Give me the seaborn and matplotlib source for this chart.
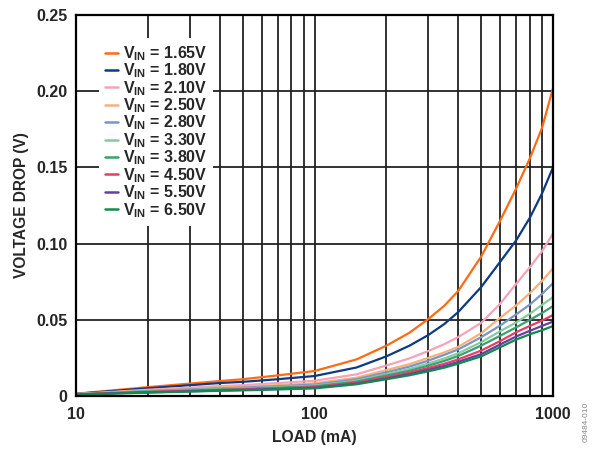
import numpy as np
import pandas as pd
import matplotlib
matplotlib.use('Agg')
import matplotlib.pyplot as plt
import seaborn as sns

# load current (mA)
load = [10, 20, 40, 50, 70, 100, 150, 200, 250, 300, 350, 400, 500, 600, 700, 800, 900, 1000]

vin_labels = ['1.65V', '1.80V', '2.10V', '2.50V', '2.80V',
              '3.30V', '3.80V', '4.50V', '5.50V', '6.50V']

# voltage drop (V) per input voltage
v165 = [0.0015, 0.0058, 0.0098, 0.0110, 0.0135, 0.0164, 0.0240, 0.0330, 0.0415, 0.0505, 0.0592, 0.0688, 0.0915, 0.1150, 0.1360, 0.1560, 0.1760, 0.2020]
v180 = [0.0014, 0.0051, 0.0085, 0.0093, 0.0110, 0.0131, 0.0187, 0.0260, 0.0330, 0.0400, 0.0472, 0.0550, 0.0715, 0.0880, 0.1020, 0.1170, 0.1330, 0.1500]
v210 = [0.0013, 0.0041, 0.0065, 0.0071, 0.0085, 0.0100, 0.0142, 0.0200, 0.0247, 0.0295, 0.0340, 0.0386, 0.0480, 0.0605, 0.0735, 0.0845, 0.0950, 0.1067]
v250 = [0.0012, 0.0036, 0.0055, 0.0060, 0.0071, 0.0083, 0.0120, 0.0170, 0.0209, 0.0250, 0.0286, 0.0322, 0.0412, 0.0513, 0.0594, 0.0675, 0.0755, 0.0838]
v280 = [0.0012, 0.0033, 0.0050, 0.0055, 0.0064, 0.0075, 0.0110, 0.0155, 0.0193, 0.0232, 0.0270, 0.0305, 0.0386, 0.0462, 0.0535, 0.0600, 0.0670, 0.0740]
v330 = [0.0011, 0.0030, 0.0046, 0.0050, 0.0058, 0.0068, 0.0100, 0.0143, 0.0177, 0.0213, 0.0246, 0.0280, 0.0353, 0.0425, 0.0482, 0.0540, 0.0598, 0.0648]
v380 = [0.0011, 0.0028, 0.0042, 0.0046, 0.0054, 0.0063, 0.0094, 0.0134, 0.0165, 0.0199, 0.0230, 0.0262, 0.0331, 0.0395, 0.0450, 0.0500, 0.0545, 0.0590]
v450 = [0.0010, 0.0026, 0.0039, 0.0043, 0.0050, 0.0058, 0.0087, 0.0124, 0.0153, 0.0184, 0.0211, 0.0240, 0.0298, 0.0360, 0.0418, 0.0460, 0.0495, 0.0531]
v550 = [0.0010, 0.0024, 0.0036, 0.0040, 0.0046, 0.0054, 0.0081, 0.0115, 0.0143, 0.0172, 0.0197, 0.0224, 0.0275, 0.0338, 0.0390, 0.0428, 0.0460, 0.0488]
v650 = [0.0010, 0.0022, 0.0034, 0.0037, 0.0043, 0.0050, 0.0077, 0.0110, 0.0136, 0.0162, 0.0186, 0.0212, 0.0260, 0.0320, 0.0370, 0.0405, 0.0432, 0.0459]

series = [v165, v180, v210, v250, v280, v330, v380, v450, v550, v650]
colors = ['#FF6A13', '#0D3A85', '#F4A3B8', '#FFAE7A', '#7896C8',
          '#86CBA0', '#3AA070', '#E83E64', '#6A3EA0', '#118A50']

rows = []
for lab, vals in zip(vin_labels, series):
    for l, v in zip(load, vals):
        rows.append({'load': l, 'drop': v, 'vin': lab})
df = pd.DataFrame(rows)

sns.set_style('white')
plt.rcParams['font.family'] = ['Liberation Sans', 'DejaVu Sans']
plt.rcParams['font.weight'] = 'bold'
plt.rcParams['mathtext.fontset'] = 'custom'
plt.rcParams['mathtext.rm'] = 'Liberation Sans:bold'
plt.rcParams['mathtext.bf'] = 'Liberation Sans:bold'

fig = plt.figure(figsize=(5.95, 4.51), dpi=100)
ax = fig.add_axes([76/595, 1-396/451, 477/595, 381/451])

sns.lineplot(data=df, x='load', y='drop', hue='vin', palette=colors,
             linewidth=1.6, ax=ax, legend=False, sort=True)

ax.set_xscale('log')
ax.set_xlim(10, 1000)
ax.set_ylim(0, 0.25)
ax.set_yticks([0, 0.05, 0.10, 0.15, 0.20, 0.25])
ax.set_yticklabels(['0', '0.05', '0.10', '0.15', '0.20', '0.25'])
ax.set_xticks([10, 100, 1000])
ax.set_xticklabels(['10', '100', '1000'])
ax.tick_params(axis='both', which='both', length=0, labelsize=11.5)
ax.tick_params(axis='x', pad=8)
ax.tick_params(axis='y', pad=6)
for t in ax.get_xticklabels() + ax.get_yticklabels():
    t.set_fontweight('bold')

ax.grid(True, which='both', axis='x', color='#222222', linewidth=1.3)
ax.grid(True, which='major', axis='y', color='#222222', linewidth=1.3)
ax.set_axisbelow(True)
for s in ax.spines.values():
    s.set_color('black')
    s.set_linewidth(1.6)

ax.set_xlabel('LOAD (mA)', fontsize=11.3, fontweight='bold', labelpad=6)
ax.set_ylabel('VOLTAGE DROP (V)', fontsize=11.2, fontweight='bold', labelpad=5)

handles = [plt.Line2D([], [], color=c, linewidth=1.8) for c in colors]
labels = [r'V$_{\mathbf{IN}}$ = ' + v for v in vin_labels]
leg = ax.legend(handles, labels, loc='upper left', bbox_to_anchor=(0.0476, 0.9404),
                borderaxespad=0, frameon=True, fancybox=False, framealpha=1,
                edgecolor='none', facecolor='white', fontsize=11.5,
                handlelength=0.8, handletextpad=0.3, labelspacing=-0.08,
                borderpad=0.4)
for t in leg.get_texts():
    t.set_fontweight('bold')
leg.set_zorder(5)

fig.text(0.985, 0.02, '09484-010', rotation=90, fontsize=6, color='#888888',
         fontweight='normal', ha='center', va='bottom')

fig.savefig('out.png', dpi=100)
